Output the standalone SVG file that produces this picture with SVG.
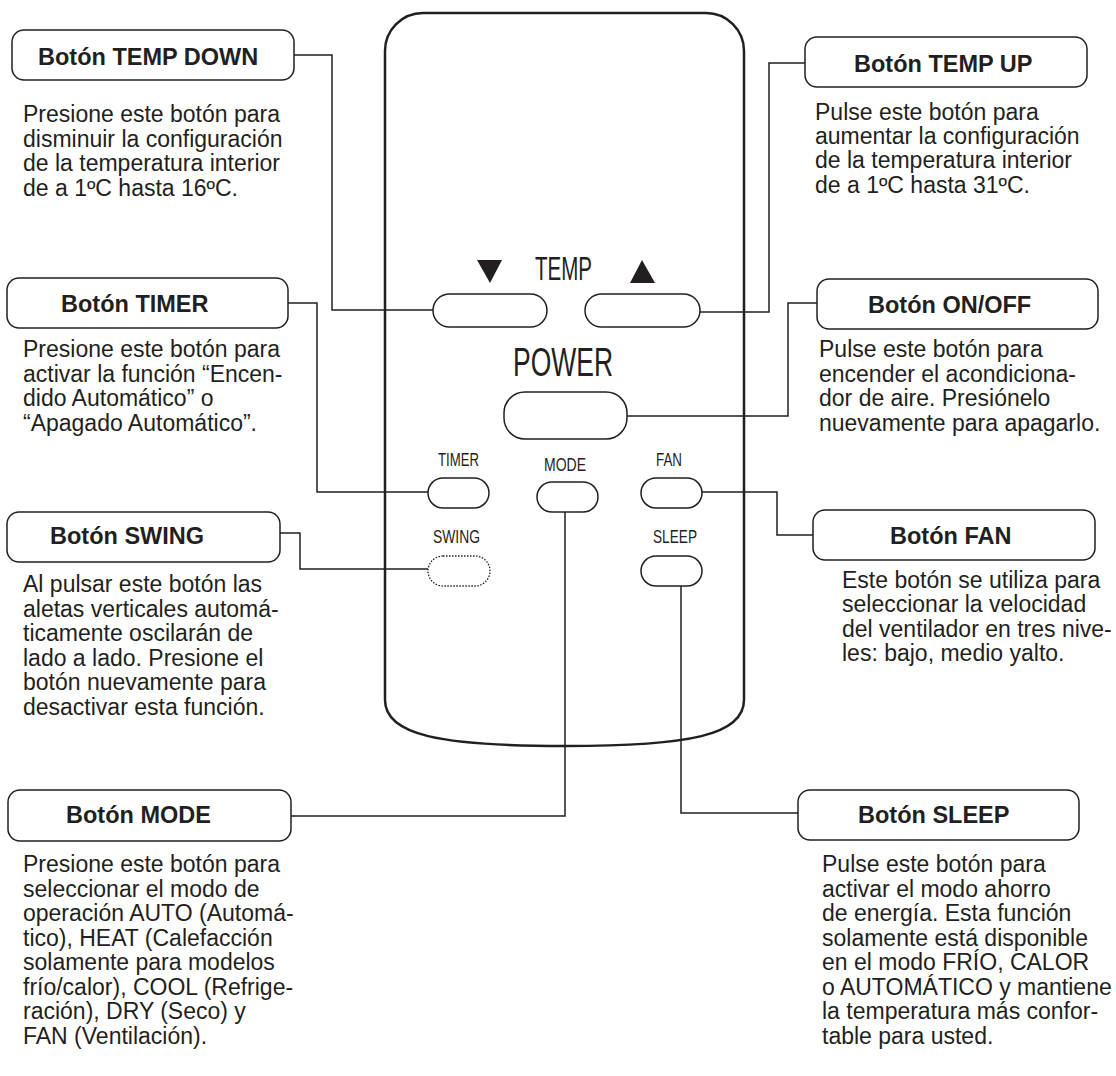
<svg xmlns="http://www.w3.org/2000/svg" width="1116" height="1076" viewBox="0 0 1116 1076">
<style>
.box{fill:#fff;stroke:#231f20;stroke-width:1.5}
.title{font-family:"Liberation Sans",Arial,sans-serif;font-weight:bold;font-size:23.5px;fill:#231f20}
.body{font-family:"Liberation Sans",Arial,sans-serif;font-size:23px;fill:#231f20}
.lbl{font-family:"Liberation Sans",Arial,sans-serif;fill:#231f20}
.btn{fill:#fff;stroke:#231f20;stroke-width:1.5}
.conn{fill:none;stroke:#231f20;stroke-width:1.5}
</style>
<rect width="1116" height="1076" fill="#fff"/>
<g id="connectors">
<polyline class="conn" points="294,55 332,55 332,310 433,310"/>
<polyline class="conn" points="805,63 769,63 769,312 700,312"/>
<polyline class="conn" points="288,303 317,303 317,492 428,492"/>
<polyline class="conn" points="817,303 788,303 788,416 627,416"/>
<polyline class="conn" points="280,533 300,533 300,569 428,569"/>
<polyline class="conn" points="702,492 777,492 777,535 813,535"/>
<polyline class="conn" points="291,816 565,816 565,512"/>
<polyline class="conn" points="681,586 681,813 798,813"/>
</g>
<g id="remote">
<path d="M385,51 A38,38 0 0 1 423,13 H706 A38,38 0 0 1 744,51 V700 C744,735 690,746 565,746 C440,746 385,735 385,700 Z" fill="none" stroke="#231f20" stroke-width="2.5"/>
<polygon points="477,260 502,260 490,283" fill="#231f20"/>
<polygon points="630,283 655,283 642,260" fill="#231f20"/>
<text class="lbl" x="535" y="280" font-size="34" textLength="57" lengthAdjust="spacingAndGlyphs">TEMP</text>
<text class="lbl" x="513" y="376" font-size="41" textLength="100" lengthAdjust="spacingAndGlyphs">POWER</text>
<text class="lbl" x="438" y="466" font-size="19" textLength="41" lengthAdjust="spacingAndGlyphs">TIMER</text>
<text class="lbl" x="544" y="471" font-size="19" textLength="42" lengthAdjust="spacingAndGlyphs">MODE</text>
<text class="lbl" x="656" y="466" font-size="19" textLength="26" lengthAdjust="spacingAndGlyphs">FAN</text>
<text class="lbl" x="433" y="543" font-size="19" textLength="47" lengthAdjust="spacingAndGlyphs">SWING</text>
<text class="lbl" x="653" y="543" font-size="19" textLength="44" lengthAdjust="spacingAndGlyphs">SLEEP</text>
</g>
<g id="btn-temp-down"><rect class="btn" x="433" y="294" width="114" height="33" rx="16.5"/></g>
<g id="btn-temp-up"><rect class="btn" x="585" y="294" width="115" height="33" rx="16.5"/></g>
<g id="btn-power"><rect class="btn" x="504" y="392" width="123" height="47" rx="21"/></g>
<g id="btn-timer"><rect class="btn" x="428" y="478" width="61" height="30" rx="15"/></g>
<g id="btn-mode"><rect class="btn" x="537" y="482" width="61" height="30" rx="15"/></g>
<g id="btn-fan"><rect class="btn" x="641" y="478" width="61" height="30" rx="15"/></g>
<g id="btn-swing"><rect x="428" y="556" width="62" height="30" rx="15" fill="#fff" stroke="#231f20" stroke-width="1.3" stroke-dasharray="1.5,1.5"/></g>
<g id="btn-sleep"><rect class="btn" x="641" y="556" width="61" height="30" rx="15"/></g>

<g id="node-temp-down">
<rect class="box" x="12" y="30" width="282" height="50" rx="12"/>
<text class="title" x="38" y="65">Botón TEMP DOWN</text>
<text class="body"><tspan x="23" y="122">Presione este botón para</tspan><tspan x="23" y="147">disminuir la configuración</tspan><tspan x="23" y="171">de la temperatura interior</tspan><tspan x="23" y="196">de a 1ºC hasta 16ºC.</tspan></text>
</g>
<g id="node-timer">
<rect class="box" x="7" y="278" width="281" height="50" rx="12"/>
<text class="title" x="61" y="312">Botón TIMER</text>
<text class="body"><tspan x="23" y="357">Presione este botón para</tspan><tspan x="23" y="382">activar la función “Encen-</tspan><tspan x="23" y="406">dido Automático” o</tspan><tspan x="23" y="431">“Apagado Automático”.</tspan></text>
</g>
<g id="node-swing">
<rect class="box" x="7" y="512" width="273" height="50" rx="12"/>
<text class="title" x="50" y="544">Botón SWING</text>
<text class="body"><tspan x="23" y="592">Al pulsar este botón las</tspan><tspan x="23" y="617">aletas verticales automá-</tspan><tspan x="23" y="641">ticamente oscilarán de</tspan><tspan x="23" y="666">lado a lado. Presione el</tspan><tspan x="23" y="690">botón nuevamente para</tspan><tspan x="23" y="715">desactivar esta función.</tspan></text>
</g>
<g id="node-mode">
<rect class="box" x="8" y="790" width="283" height="51" rx="12"/>
<text class="title" x="66" y="823">Botón MODE</text>
<text class="body"><tspan x="23" y="872">Presione este botón para</tspan><tspan x="23" y="896.5">seleccionar el modo de</tspan><tspan x="23" y="921">operación AUTO (Automá-</tspan><tspan x="23" y="945.5">tico), HEAT (Calefacción</tspan><tspan x="23" y="970">solamente para modelos</tspan><tspan x="23" y="994.5">frío/calor), COOL (Refrige-</tspan><tspan x="23" y="1019">ración), DRY (Seco) y</tspan><tspan x="23" y="1043.5">FAN (Ventilación).</tspan></text>
</g>
<g id="node-temp-up">
<rect class="box" x="805" y="37" width="282" height="50" rx="12"/>
<text class="title" x="854" y="72">Botón TEMP UP</text>
<text class="body"><tspan x="815" y="120">Pulse este botón para</tspan><tspan x="815" y="144">aumentar la configuración</tspan><tspan x="815" y="168">de la temperatura interior</tspan><tspan x="815" y="193">de a 1ºC hasta 31ºC.</tspan></text>
</g>
<g id="node-onoff">
<rect class="box" x="817" y="279" width="281" height="50" rx="12"/>
<text class="title" x="868" y="313">Botón ON/OFF</text>
<text class="body"><tspan x="819" y="357">Pulse este botón para</tspan><tspan x="819" y="382">encender el acondiciona-</tspan><tspan x="819" y="406">dor de aire. Presiónelo</tspan><tspan x="819" y="431">nuevamente para apagarlo.</tspan></text>
</g>
<g id="node-fan">
<rect class="box" x="813" y="510" width="282" height="50" rx="12"/>
<text class="title" x="890" y="544">Botón FAN</text>
<text class="body"><tspan x="842" y="588">Este botón se utiliza para</tspan><tspan x="842" y="612">seleccionar la velocidad</tspan><tspan x="842" y="637">del ventilador en tres nive-</tspan><tspan x="842" y="661">les: bajo, medio yalto.</tspan></text>
</g>
<g id="node-sleep">
<rect class="box" x="798" y="790" width="281" height="50" rx="12"/>
<text class="title" x="858" y="823">Botón SLEEP</text>
<text class="body"><tspan x="822" y="872">Pulse este botón para</tspan><tspan x="822" y="896.5">activar el modo ahorro</tspan><tspan x="822" y="921">de energía. Esta función</tspan><tspan x="822" y="945.5">solamente está disponible</tspan><tspan x="822" y="970">en el modo FRÍO, CALOR</tspan><tspan x="822" y="994.5">o AUTOMÁTICO y mantiene</tspan><tspan x="822" y="1019">la temperatura más confor-</tspan><tspan x="822" y="1043.5">table para usted.</tspan></text>
</g>
</svg>
